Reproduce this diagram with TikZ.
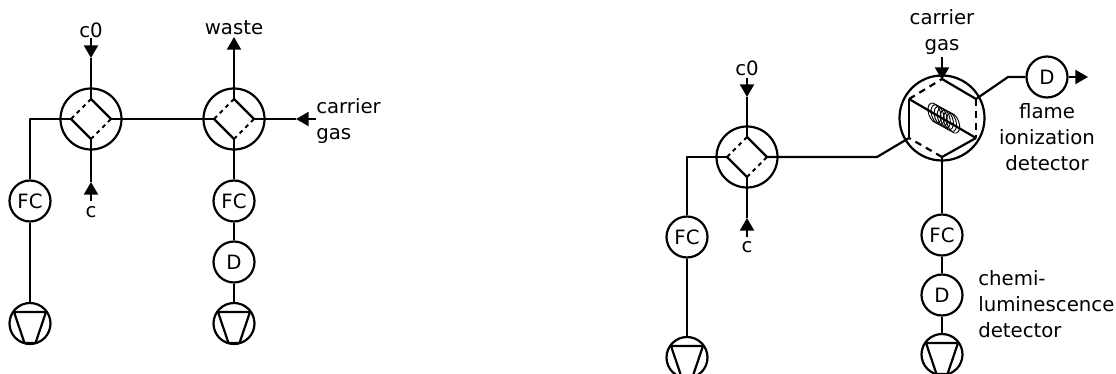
\documentclass[tikz,border=0pt]{standalone}
\usepackage{fontspec}
\setmainfont{DejaVu Sans}
\usetikzlibrary{arrows.meta}
\tikzset{
  lbl/.style={inner sep=0pt,font=\fontsize{14.8}{19.5}\selectfont},
  lblc/.style={lbl,align=center},
  lbll/.style={lbl,align=left,anchor=west},
  ring/.style={circle,draw,line width=1.65pt,inner sep=0pt,minimum size=30.75pt,font=\fontsize{14.8}{19.5}\selectfont},
  valvering/.style={ring,minimum size=45.75pt},
  hexring/.style={ring,minimum size=63.75pt},
  conn/.style={line width=1.65pt,line join=round},
  flow/.style={conn,-{Triangle[width=10.5pt,length=9.5pt]}},
  dashline/.style={line width=1.65pt,dash pattern=on 5pt off 4pt},
  dotline/.style={line width=1.4pt,dash pattern=on 3pt off 3pt},
  coilturn/.style={line width=.7pt}
}
\newcommand{\valvesym}[3]{%
  \node[valvering] (#1) at (#2,#3) {};
  \coordinate (#1t) at (#2,#3-20);
  \coordinate (#1r) at (#2+20,#3);
  \coordinate (#1b) at (#2,#3+20);
  \coordinate (#1l) at (#2-20,#3);
  \draw[conn] (#1t) -- (#1r) (#1l) -- (#1b);
  \draw[dotline] (#1t) -- (#1l) (#1b) -- (#1r);
}
\newcommand{\pumpsym}[3]{%
  \node[ring] (#1) at (#2,#3) {};
  \draw[conn] (#2-16,#3-11.5) -- (#2+16,#3-11.5) -- (#2+5.5,#3+19.5) -- (#2-5.5,#3+19.5) -- cycle;
}
\begin{document}
\begin{tikzpicture}[x=0.75pt,y=-0.75pt]
\useasboundingbox (0,0) rectangle (1116,374);
\begin{scope}
\clip (0,0) rectangle (1116,374);
% left figure
\valvesym{va}{91}{119}
\valvesym{vb}{234}{119}
\node[ring] (fca) at (30,201) {FC};
\node[ring] (fcb) at (234,201) {FC};
\node[ring] (db) at (234,262) {D};
\pumpsym{pa}{30}{323.5}
\pumpsym{pb}{234}{323.5}
\node[lblc] (c0a) at (91,30) {c0};
\node[lblc] (ca) at (91,212) {c};
\node[lblc] (waste) at (234,28) {waste};
\node[lbll] (cg) at (316,121) {carrier\\gas};
\coordinate (c0as) at (91,38);
\coordinate (c0at) at (91,58);
\coordinate (cas) at (91,201);
\coordinate (cat) at (91,182);
\coordinate (cgs) at (316,119);
\coordinate (cgt) at (296,119);
\coordinate (wt) at (234,37);
\coordinate (cornerA) at (30,119);
\draw[flow] (c0as) -- (c0at);
\draw[conn] (c0at) -- (vat);
\draw[flow] (cas) -- (cat);
\draw[conn] (cat) -- (vab);
\draw[conn] (val) -- (cornerA) -- (fca.north);
\draw[conn] (fca.south) -- (pa.north);
\draw[conn] (var) -- (vbl);
\draw[flow] (vbt) -- (wt);
\draw[flow] (cgs) -- (cgt);
\draw[conn] (cgt) -- (vbr);
\draw[conn] (vbb) -- (fcb.north);
\draw[conn] (fcb.south) -- (db.north);
\draw[conn] (db.south) -- (pb.north);
% right figure
\valvesym{vc}{747}{157}
\node[ring] (fcc) at (687,237) {FC};
\pumpsym{pc}{687}{357.5}
\node[lblc] (c0c) at (747,68) {c0};
\node[lblc] (cc) at (747,247) {c};
\coordinate (c0cs) at (747,78);
\coordinate (c0ct) at (747,97);
\coordinate (ccs) at (747,237);
\coordinate (cct) at (747,218);
\coordinate (cornerC) at (687,157);
\coordinate (bend) at (877,157);
\draw[flow] (c0cs) -- (c0ct);
\draw[conn] (c0ct) -- (vct);
\draw[flow] (ccs) -- (cct);
\draw[conn] (cct) -- (vcb);
\draw[conn] (vcl) -- (cornerC) -- (fcc.north);
\draw[conn] (fcc.south) -- (pc.north);
% hexagonal valve
\node[hexring] (hx) at (942,118) {};
\coordinate (ht) at (942,79);
\coordinate (hur) at (976,99);
\coordinate (hlr) at (976,138);
\coordinate (hb) at (942,157);
\coordinate (hll) at (909,138);
\coordinate (hul) at (909,99);
\draw[conn] (ht) -- (hur);
\draw[dashline] (hur) -- (hlr);
\draw[conn] (hlr) -- (hb);
\draw[dashline] (hb) -- (hll);
\draw[conn] (hll) -- (hul);
\draw[dashline] (hul) -- (ht);
\draw[conn] (hul) -- (hlr);
\foreach \k in {0,...,6}
  \draw[coilturn] ({934.5+\k*3.1},{113+\k*1.7}) ellipse[x radius=7.8pt,y radius=4.4pt,rotate=-70];
\node[ring] (dd) at (1047,77) {D};
\node[ring] (fcd) at (942,235) {FC};
\node[ring] (dc) at (942,295) {D};
\pumpsym{pd}{942}{354.5}
\node[lblc] (cgr) at (942,32) {carrier\\gas};
\node[lblc] (fid) at (1047,137) {flame\\ionization\\detector};
\node[lbll] (cld) at (978,304) {chemi-\\luminescence\\detector};
\coordinate (gs) at (942,57);
\coordinate (gt) at (942,80);
\coordinate (bendr) at (1008,77);
\coordinate (dout) at (1088,77);
\draw[conn] (vcr) -- (bend) -- (hll);
\draw[flow] (gs) -- (gt);
\draw[conn] (hur) -- (bendr) -- (dd.west);
\draw[flow] (dd.east) -- (dout);
\draw[conn] (hb) -- (fcd.north);
\draw[conn] (fcd.south) -- (dc.north);
\draw[conn] (dc.south) -- (pd.north);
\end{scope}
\end{tikzpicture}
\end{document}
